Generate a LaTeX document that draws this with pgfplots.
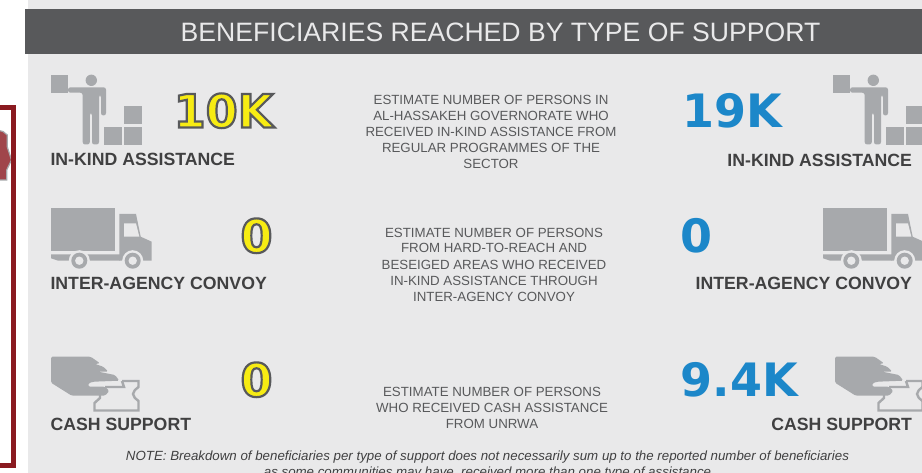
\documentclass[border=0pt]{standalone}
\usepackage{pgfplots}
\pgfplotsset{compat=1.18}
\usepackage{fontspec}
\setmainfont{Liberation Sans}
\newfontfamily\numfont{DejaVu Sans}[BoldFont={DejaVu Sans Bold}]
\definecolor{panel}{HTML}{E9E9EA}
\definecolor{band}{HTML}{58595B}
\definecolor{icon}{HTML}{A7A9AC}
\definecolor{lab}{HTML}{404041}
\definecolor{body}{HTML}{58595B}
\definecolor{frame}{HTML}{8A1A20}
\definecolor{mapc}{HTML}{A0454B}
\definecolor{yel}{HTML}{F7EC13}
\definecolor{blu}{HTML}{1C87C9}
\newcommand\T[5]{\node[anchor=#3,inner sep=0pt,outer sep=0pt] at (axis cs:#1,#2) {\fontsize{#4}{#4}\selectfont #5};}
\newcommand\person{%
 \fill[icon] (axis cs:51,75) rectangle (axis cs:68.3,92.7);
 \fill[icon] (axis cs:91.3,80.3) circle[radius=5.7pt];
 \fill[icon,rounded corners=2.4pt] (axis cs:68,87.3) -- (axis cs:106,87.3) -- (axis cs:106,115.5) -- (axis cs:101,115.5) -- (axis cs:101,95) -- (axis cs:99,95) -- (axis cs:99,144.5) -- (axis cs:92,144.5) -- (axis cs:92,113) -- (axis cs:89.8,113) -- (axis cs:89.8,144.5) -- (axis cs:82.7,144.5) -- (axis cs:82.7,92.7) -- (axis cs:68,92.7) -- cycle;
 \fill[icon] (axis cs:104,127) rectangle (axis cs:122,145);
 \fill[icon] (axis cs:124,127) rectangle (axis cs:142,145);
 \fill[icon] (axis cs:124,106) rectangle (axis cs:142,124);
}
\newcommand\wheel[1]{%
  \fill[panel] (axis cs:#1,260.7) circle[radius=10.5pt];
  \fill[icon] (axis cs:#1,260.7) circle[radius=8pt];
  \fill[panel] (axis cs:#1,260.7) circle[radius=4.2pt];
}
\newcommand\truck{%
 \fill[icon] (axis cs:51,207.7) rectangle (axis cs:115.3,251);
 \fill[icon] (axis cs:119.3,214) -- (axis cs:136,214) -- (axis cs:140.7,236.7) -- (axis cs:151.7,241.7) -- (axis cs:151.7,260.7) -- (axis cs:119.3,260.7) -- cycle;
 \fill[panel] (axis cs:124,223.3) -- (axis cs:136,223.3) -- (axis cs:139.3,236.7) -- (axis cs:124,236.7) -- cycle;
 \fill[icon] (axis cs:51,254.3) -- (axis cs:120,254.3) -- (axis cs:120,260.7) -- (axis cs:58.3,260.7) -- (axis cs:51,258.3) -- cycle;
 \wheel{79.3}\wheel{132.7}
}
\newcommand\cash{%
 \draw[icon,line width=2.4pt,line join=miter] (axis cs:122,381) -- (axis cs:138.5,381) -- (axis cs:138.5,387) to[out=225,in=90] (axis cs:133,394) to[out=270,in=135] (axis cs:138.5,401) -- (axis cs:138.5,410.5) -- (axis cs:94.5,410.5) -- (axis cs:94.5,403) -- (axis cs:100,398) -- (axis cs:100,394);
 \draw[icon,line width=2.4pt] (axis cs:122,381) -- (axis cs:124,387) -- (axis cs:105,387);
 \fill[icon,rounded corners=1.5pt] (axis cs:51,356.7) -- (axis cs:90.7,356.7) -- (axis cs:100,363.3) -- (axis cs:95,364) -- (axis cs:103.3,366.7) -- (axis cs:108.3,371.7) -- (axis cs:98.3,371.7) -- (axis cs:115,375) -- (axis cs:119.3,380.7) -- (axis cs:93.3,381.7) -- (axis cs:88.3,383.3) -- (axis cs:88.3,386.7) -- (axis cs:105,386.7) -- (axis cs:109.3,391) -- (axis cs:105,395.7) -- (axis cs:71.7,395.7) -- (axis cs:51,382.7) -- cycle;
}
\newcommand\outl[1]{\special{pdf:code q 2 Tr 2.2 w 0.345 0.349 0.357 RG 0.969 0.925 0.075 rg}#1\special{pdf:code Q}}
\begin{document}
\begin{tikzpicture}
\clip (0,0) rectangle (922pt,473pt);
\begin{axis}[at={(0,0)},anchor=south west,scale only axis,width=922pt,height=473pt,
 xmin=0,xmax=922,ymin=0,ymax=473,y dir=reverse,hide axis,clip=false]
% white page, panel and title band
\addplot[fill=white,draw=none] coordinates {(0,0)(922,0)(922,473)(0,473)} -- cycle;
\addplot[fill=panel,draw=none] coordinates {(28.3,0)(922,0)(922,473)(28.3,473)} -- cycle;
\addplot[fill=band,draw=none] coordinates {(25,9)(922,9)(922,54)(25,54)} -- cycle;
% frame and map
\fill[mapc,draw=icon,line width=1.2pt] (axis cs:-3,130) -- (axis cs:3,131.5) -- (axis cs:7.3,135) -- (axis cs:7.3,147) -- (axis cs:11.5,160) -- (axis cs:6.7,170) -- (axis cs:6.7,180) -- (axis cs:-3,180) -- cycle;
\draw[frame,line width=4.8pt] (axis cs:-5,107.5) -- (axis cs:13.2,107.5) -- (axis cs:13.2,465.8) -- (axis cs:-5,465.8);
% title
\T{500.5}{41.5}{base}{26.6}{\color{panel}BENEFICIARIES REACHED BY TYPE OF SUPPORT}
% icons
\person \truck \cash
\begin{scope}[shift={(axis direction cs:782,0)}] \person \end{scope}
\begin{scope}[shift={(axis direction cs:772,0)}] \truck \end{scope}
\begin{scope}[shift={(axis direction cs:784,0)}] \cash \end{scope}
% labels
\T{50.5}{165.5}{base west}{17.7}{\bfseries\color{lab}IN-KIND ASSISTANCE}
\T{50.5}{289}{base west}{17.7}{\bfseries\color{lab}INTER-AGENCY CONVOY}
\T{50.5}{430}{base west}{17.7}{\bfseries\color{lab}CASH SUPPORT}
\T{912}{167}{base east}{17.7}{\bfseries\color{lab}IN-KIND ASSISTANCE}
\T{912}{289}{base east}{17.7}{\bfseries\color{lab}INTER-AGENCY CONVOY}
\T{912}{430}{base east}{17.7}{\bfseries\color{lab}CASH SUPPORT}
% values
\T{223.5}{127.5}{base}{46}{\numfont\bfseries\outl{10K}}
\T{256.5}{252.5}{base}{46}{\numfont\bfseries\outl{0}}
\T{256.5}{396.5}{base}{46}{\numfont\bfseries\outl{0}}
\T{732.5}{127.5}{base}{46}{\numfont\bfseries\color{blu}19K}
\T{696}{253}{base}{46}{\numfont\bfseries\color{blu}0}
\T{739.5}{396}{base}{46}{\numfont\bfseries\color{blu}9.4K}
% descriptions
\T{491}{105}{base}{13.3}{\color{body}ESTIMATE NUMBER OF PERSONS IN}
\T{491}{121}{base}{13.3}{\color{body}AL-HASSAKEH GOVERNORATE WHO}
\T{491}{137}{base}{13.3}{\color{body}RECEIVED IN-KIND ASSISTANCE FROM}
\T{491}{153}{base}{13.3}{\color{body}REGULAR PROGRAMMES OF THE}
\T{491}{169}{base}{13.3}{\color{body}SECTOR}
\T{494}{237}{base}{13.3}{\color{body}ESTIMATE NUMBER OF PERSONS}
\T{494}{253}{base}{13.3}{\color{body}FROM HARD-TO-REACH AND}
\T{494}{269.5}{base}{13.3}{\color{body}BESEIGED AREAS WHO RECEIVED}
\T{494}{285.5}{base}{13.3}{\color{body}IN-KIND ASSISTANCE THROUGH}
\T{494}{301.5}{base}{13.3}{\color{body}INTER-AGENCY CONVOY}
\T{492}{396}{base}{13.3}{\color{body}ESTIMATE NUMBER OF PERSONS}
\T{492}{412}{base}{13.3}{\color{body}WHO RECEIVED CASH ASSISTANCE}
\T{492}{428}{base}{13.3}{\color{body}FROM UNRWA}
% note
\T{487.5}{460}{base}{13.3}{\itshape\color{lab}NOTE: Breakdown of beneficiaries per type of support does not necessarily sum up to the reported number of beneficiaries}
\T{487.5}{476}{base}{13.3}{\itshape\color{lab}as some communities may have, received more than one type of assistance}
\end{axis}
\end{tikzpicture}
\end{document}
